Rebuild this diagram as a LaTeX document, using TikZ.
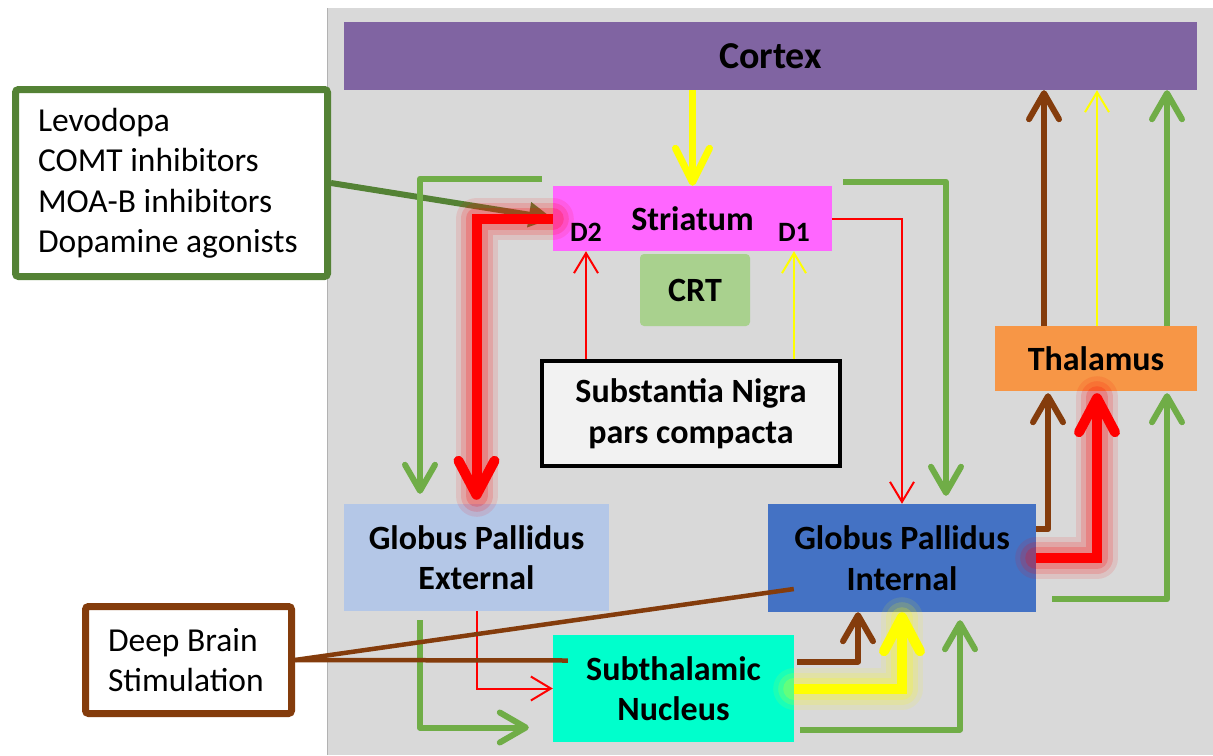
\documentclass[tikz,border=0pt]{standalone}
\usepackage{fontspec}
\setmainfont{Carlito}
\usetikzlibrary{calc}
\usetikzlibrary{arrows.meta}
\usetikzlibrary{positioning}
\usepackage{xcolor}
\definecolor{bggrey}{HTML}{D9D9D9}
\definecolor{cortexcol}{HTML}{8064A2}
\definecolor{striatcol}{HTML}{FF66FF}
\definecolor{crtcol}{HTML}{A9D18E}
\definecolor{sncol}{HTML}{F2F2F2}
\definecolor{thalcol}{HTML}{F79646}
\definecolor{gpecol}{HTML}{B4C7E7}
\definecolor{gpicol}{HTML}{4472C4}
\definecolor{stncol}{HTML}{00FFCC}
\definecolor{drugcol}{HTML}{548235}
\definecolor{lgreen}{HTML}{70AD47}
\definecolor{brn}{HTML}{843C0C}
\definecolor{yel}{HTML}{FFFF00}

\begin{document}
\begin{tikzpicture}[x=1pt, y=-1pt,
 box/.style={inner sep=0, align=center, font=\fontsize{34}{40.5}\selectfont\bfseries},
 dlbl/.style={inner sep=0, font=\fontsize{28}{30}\selectfont\bfseries},
 note/.style={fill=white, line width=7pt, rounded corners=3pt, align=left, inner xsep=22pt,
   font=\fontsize{33.5}{40.5}\selectfont, execute at begin node={\spaceskip=0pt\xspaceskip=0pt\relax}},
 thinarr/.style={line width=2pt, -{Straight Barb[length=20pt,width=24pt]}},
 midarr/.style={line width=6pt, line join=round, -{Straight Barb[length=26pt,width=30pt,round]}},
 fatarr/.style={line width=10pt, -{Straight Barb[length=34pt,width=36pt,round]}},
 glow/.style={draw=#1, line cap=round, line join=round}
]
\fill[white] (0,0) rectangle (1213,755);
\fill[bggrey] (327,8) rectangle (1213,755);
\draw[black!30, line width=1pt] (327,8) -- (327,755);
\useasboundingbox (0,0) rectangle (1213,755);

\node[box, fill=cortexcol, minimum width=853pt, minimum height=68pt, font=\fontsize{38}{40}\selectfont\bfseries] (ctx) at (770.5,56) {Cortex};
\node[box, fill=striatcol, minimum width=279pt, minimum height=65pt] (str) at (692.5,218.5) {Striatum};
\node[dlbl] (d2) at (586,232) {D2};
\node[dlbl] (d1) at (794,232) {D1};
\node[box, fill=crtcol, rounded corners=4pt, minimum width=110pt, minimum height=72pt] (crt) at (695,290) {CRT};
\node[box, fill=sncol, draw=black, line width=4pt, minimum width=298pt, minimum height=105pt] (snc) at (691,413.5) {Substantia Nigra\\pars compacta};
\node[box, fill=thalcol, minimum width=202pt, minimum height=65pt] (thl) at (1096,358.5) {Thalamus};
\node[box, fill=gpecol, minimum width=265pt, minimum height=107pt] (gpe) at (476.5,557.5) {Globus Pallidus\\External};
\node[box, fill=gpicol, minimum width=268pt, minimum height=108pt] (gpi) at (902,558) {Globus Pallidus\\Internal};
\node[box, fill=stncol, minimum width=241pt, minimum height=107pt] (stn) at (673.5,688.5) {Subthalamic\\Nucleus};

\node[note, draw=drugcol, minimum width=312pt, minimum height=187pt, text width=267pt] (levo) at (171.5,183)
 {Levodopa\\COMT inhibitors\\MOA-B inhibitors\\Dopamine agonists};
\node[note, draw=brn, minimum width=206pt, minimum height=107pt, text width=161pt] (dbs) at (188.5,660)
 {Deep Brain\\Stimulation};

\draw[line width=7pt, yel, -{Straight Barb[length=34pt,width=34pt,round]}] (str.north |- ctx.south) -- (str.north);
\draw[line width=6pt, drugcol, -{Triangle[length=24pt,width=24pt]}] (levo.east) -- (str.west);

\draw[midarr, lgreen] ($(str.north west)+(-11,-7)$) -| ($(gpe.north)+(-56.5,-10)$);
\foreach \w/\o in {42/.1, 32/.15, 22/.2}
 \draw[glow=red, line width=\w pt, opacity=\o] (str.west) -| ($(gpe.north)+(0,-8)$);
\draw[fatarr, red] (str.west) -| ($(gpe.north)+(0,-4)$);
\draw[midarr, lgreen] ($(str.north east)+(11,-4)$) -| ($(gpi.north)+(44,-8)$);
\draw[thinarr, red] (str.east) -| (gpi.north);

\draw[thinarr, red] (d2.center |- snc.north) -- (d2.center |- str.south);
\draw[thinarr, yel] (d1.center |- snc.north) -- (d1.center |- str.south);

\foreach \dx/\col/\sty in {-52/brn/midarr, 1/yel/thinarr, 71/lgreen/midarr}
 \draw[\sty, \col] ($(thl.north)+(\dx,0)$) coordinate (t) -- (t |- ctx.south);

\draw[midarr, brn] ($(gpi.east)+(0,-29)$) -| ($(thl.south)+(-48,2)$);
\foreach \w/\o in {42/.1, 32/.15, 22/.2}
 \draw[glow=red, line width=\w pt, opacity=\o] (gpi.east) -| ($(thl.south)+(1,6)$);
\draw[fatarr, red] (gpi.east) -| ($(thl.south)+(1,2)$);
\draw[midarr, lgreen] ($(gpi.south east)+(16,-13)$) -| ($(thl.south)+(71,2)$);

\draw[midarr, lgreen] ($(gpe.south west)+(76,9)$) |- ($(stn.west)+(-24,39)$);
\draw[thinarr, red] (gpe.south) |- (stn.west);

\draw[midarr, brn] ($(stn.east)+(3,-27)$) -| ($(gpi.south)+(-44,0)$);
\foreach \w/\o in {42/.1, 32/.15, 22/.2}
 \draw[glow=yel, line width=\w pt, opacity=\o] (stn.east) -| ($(gpi.south)+(0,6)$);
\draw[fatarr, yel] (stn.east) -| (gpi.south);
\draw[midarr, lgreen] ($(stn.east)+(6,41)$) -| ($(gpi.south)+(58,8)$);

\draw[brn, line width=4.5pt] (dbs.east) -- ($(stn.west)+(15,-28)$);
\draw[brn, line width=4.5pt] (dbs.east) -- ($(gpi.west)+(26,31)$);
\end{tikzpicture}
\end{document}
